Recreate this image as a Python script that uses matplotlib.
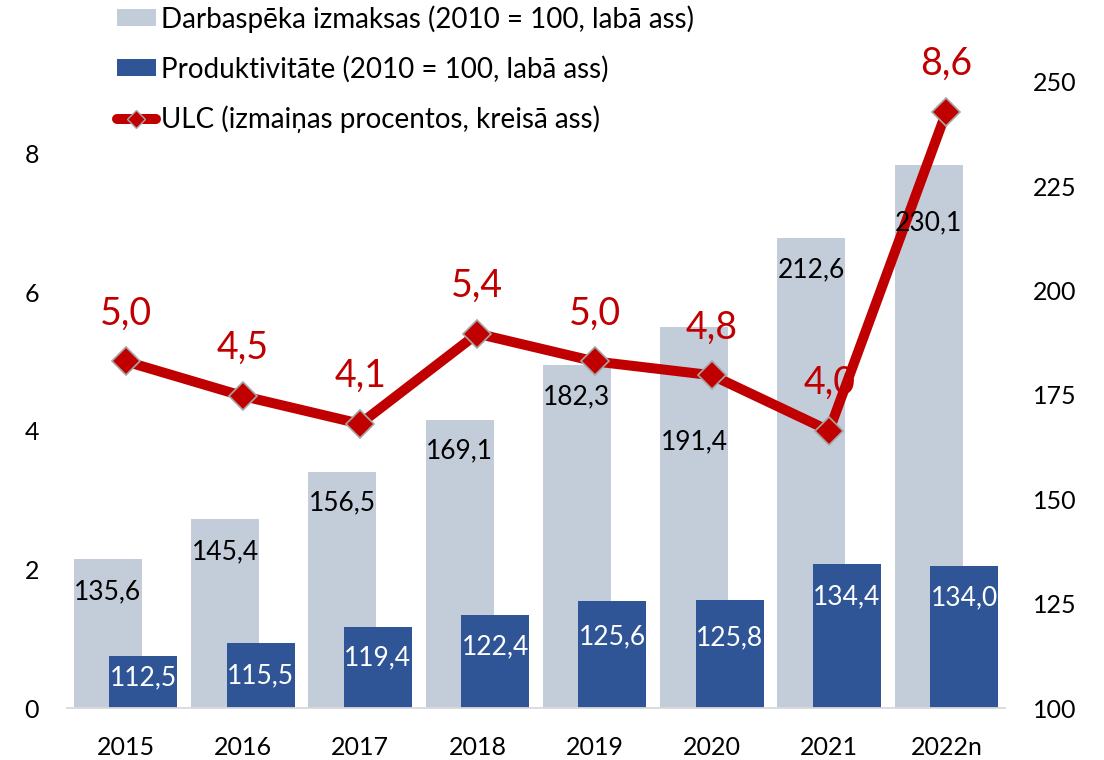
import matplotlib.pyplot as plt
from matplotlib.patches import Patch
from matplotlib.lines import Line2D
import numpy as np

plt.rcParams['font.family'] = ['Lato', 'DejaVu Sans']

years = ['2015', '2016', '2017', '2018', '2019', '2020', '2021', '2022n']
labour_costs = [135.6, 145.4, 156.5, 169.1, 182.3, 191.4, 212.6, 230.1]
productivity = [112.5, 115.5, 119.4, 122.4, 125.6, 125.8, 134.4, 134.0]
ulc = [5.0, 4.5, 4.1, 5.4, 5.0, 4.8, 4.0, 8.6]

# how far (px) each bar label sits below the top of its bar
labour_lbl_drop = [32, 33, 31, 31, 32, 115, 32, 58]
prod_lbl_drop = [22, 32, 31, 32, 36, 37, 32, 32]

c_light = '#C3CCD9'
c_blue = '#2F5597'
c_red = '#C00000'

fig = plt.figure(figsize=(11.04, 7.6), dpi=100)
ax = fig.add_axes([67 / 1104, 52 / 760, 938 / 1104, 626 / 760])
ax2 = ax.twinx()

x = np.arange(len(years))
shift = 0.152
w = 0.58

# bars on the right axis
ax.bar(x - shift, labour_costs, w, color=c_light, zorder=1)
ax.bar(x + shift, productivity, w, color=c_blue, zorder=2)
ax.set_ylim(100, 250)
ax.set_yticks([100, 125, 150, 175, 200, 225, 250])
ax.set_xlim(-0.5, len(years) - 0.5)
ax.set_xticks(x)
ax.set_xticklabels(years)
ax.yaxis.tick_right()

# ULC line on the left axis
ax2.plot(x, ulc, color=c_red, lw=7.2, marker='D', ms=14.5, mfc=c_red,
         mec='#A6A6A6', mew=1.2, zorder=2)
ax2.set_ylim(0, 9.03)
ax2.set_yticks([0, 2, 4, 6, 8])
ax2.yaxis.tick_left()

for a in (ax, ax2):
    for s in a.spines.values():
        s.set_visible(False)
    a.tick_params(length=0, pad=20, labelsize=18, colors='#000000')
ax.spines['bottom'].set_visible(True)
ax.spines['bottom'].set_color('#D9D9D9')
ax.spines['bottom'].set_linewidth(1.3)


def fmt(v):
    return f'{v:.1f}'.replace('.', ',')


for i in range(len(years)):
    ax2.annotate(fmt(labour_costs[i]), xy=(x[i] - shift, labour_costs[i]),
                 xycoords=ax.transData, xytext=(0, -labour_lbl_drop[i]),
                 textcoords='offset pixels', ha='center', va='center',
                 fontsize=19, color='black', zorder=5)
    ax2.annotate(fmt(productivity[i]), xy=(x[i] + shift, productivity[i]),
                 xycoords=ax.transData, xytext=(0, -prod_lbl_drop[i]),
                 textcoords='offset pixels', ha='center', va='center',
                 fontsize=19, color='white', zorder=5)
    ax2.annotate(fmt(ulc[i]), xy=(x[i], ulc[i]), xytext=(0, 48),
                 textcoords='offset pixels', ha='center', va='center',
                 fontsize=27, color=c_red, zorder=5)

handles = [
    Patch(facecolor=c_light, label='Darbaspēka izmaksas (2010 = 100, labā ass)'),
    Patch(facecolor=c_blue, label='Produktivitāte (2010 = 100, labā ass)'),
    Line2D([], [], color=c_red, lw=7.2, solid_capstyle='round', marker='D',
           ms=9, mfc=c_red, mec='#A6A6A6',
           label='ULC (izmaiņas procentos, kreisā ass)'),
]
fig.legend(handles=handles, loc='upper left', bbox_to_anchor=(117 / 1104, 1 - 5 / 760),
           frameon=False, fontsize=20, borderpad=0, borderaxespad=0,
           handlelength=1.4, handleheight=0.58, handletextpad=0.2,
           labelspacing=0.83)

plt.savefig('out.png', dpi=100)
